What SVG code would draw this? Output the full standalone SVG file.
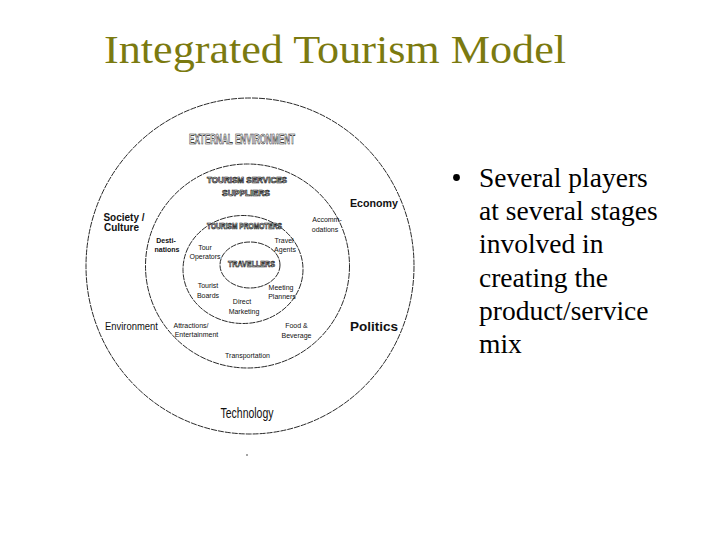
<svg xmlns="http://www.w3.org/2000/svg" width="720" height="540" viewBox="0 0 720 540">
<style>
.ring{fill:none;stroke:#111;stroke-width:0.9;stroke-dasharray:6 1}
.t{font-family:"Liberation Sans",Arial,sans-serif;fill:#111;text-anchor:middle}
.s{font-size:7px}
.b{font-weight:bold}
.o{font-family:"Liberation Sans",Arial,sans-serif;font-weight:bold;fill:#fff;stroke:#111;stroke-width:0.7;text-anchor:middle}
.r{font-family:"Liberation Serif","Times New Roman",serif;font-size:27.5px;fill:#000}
</style>
<rect width="720" height="540" fill="#fff"/>
<text id="title" x="104" y="63" font-family="Liberation Serif,'Times New Roman',serif" font-size="41" fill="#7b7a10" textLength="462" lengthAdjust="spacingAndGlyphs">Integrated Tourism Model</text>
<g id="rings">
<g id="ring-external"><ellipse class="ring" cx="250" cy="266" rx="164" ry="168"/></g>
<g id="ring-suppliers"><ellipse class="ring" cx="247.5" cy="266" rx="102" ry="102"/></g>
<g id="ring-promoters"><ellipse class="ring" cx="243" cy="269.5" rx="60" ry="54"/></g>
<g id="ring-travellers"><ellipse class="ring" cx="250" cy="265" rx="30" ry="23"/></g>
</g>
<g id="labels">
<g id="external"><text class="o" x="242" y="144" font-size="15" textLength="106" lengthAdjust="spacingAndGlyphs">EXTERNAL ENVIRONMENT</text></g>
<g id="suppliers"><text class="o" x="247" y="183" font-size="9" textLength="80" lengthAdjust="spacingAndGlyphs">TOURISM SERVICES</text><text class="o" x="246" y="196" font-size="9" textLength="48" lengthAdjust="spacingAndGlyphs">SUPPLIERS</text></g>
<g id="promoters"><text class="o" x="244.5" y="229" font-size="9" textLength="75" lengthAdjust="spacingAndGlyphs">TOURISM PROMOTERS</text></g>
<g id="travellers"><text class="o" x="251.5" y="267" font-size="9" textLength="47" lengthAdjust="spacingAndGlyphs">TRAVELLERS</text></g>
<g id="economy"><text class="t b" x="374" y="207" font-size="10" textLength="48" lengthAdjust="spacingAndGlyphs">Economy</text></g>
<g id="society"><text class="t b" x="124" y="221" font-size="10">Society /</text><text class="t b" x="121.5" y="230.5" font-size="10">Culture</text></g>
<g id="environment"><text class="t" x="131.5" y="330" font-size="10" textLength="53" lengthAdjust="spacingAndGlyphs">Environment</text></g>
<g id="politics"><text class="t b" x="374" y="331" font-size="12" textLength="48" lengthAdjust="spacingAndGlyphs">Politics</text></g>
<g id="technology"><text class="t" x="247" y="418" font-size="15" textLength="53" lengthAdjust="spacingAndGlyphs">Technology</text></g>
<g id="accommodations"><text class="t s" x="327" y="222">Accomm-</text><text class="t s" x="325" y="232">odations</text></g>
<g id="destinations"><text class="t s b" x="166" y="243">Desti-</text><text class="t s b" x="167" y="252">nations</text></g>
<g id="tour-operators"><text class="t s" x="205" y="250">Tour</text><text class="t s" x="205" y="259">Operators</text></g>
<g id="travel-agents"><text class="t s" x="284" y="243">Travel</text><text class="t s" x="285" y="252">Agents</text></g>
<g id="tourist-boards"><text class="t s" x="208" y="288">Tourist</text><text class="t s" x="208" y="298">Boards</text></g>
<g id="meeting-planners"><text class="t s" x="281" y="290">Meeting</text><text class="t s" x="282" y="299">Planners</text></g>
<g id="direct-marketing"><text class="t s" x="242" y="304">Direct</text><text class="t s" x="244" y="314">Marketing</text></g>
<g id="attractions"><text class="t s" x="191" y="328">Attractions/</text><text class="t s" x="196.5" y="337">Entertainment</text></g>
<g id="food"><text class="t s" x="296.5" y="328">Food &amp;</text><text class="t s" x="296.5" y="338">Beverage</text></g>
<g id="transportation"><text class="t s" x="247.5" y="358">Transportation</text></g>
</g>
<g id="connectors"></g>
<circle cx="247" cy="455" r="0.8" fill="#333"/>
<g id="bullets">
<circle cx="456.5" cy="177.5" r="3.4" fill="#000"/>
<text class="r" x="479" y="187">Several players</text>
<text class="r" x="479" y="220">at several stages</text>
<text class="r" x="479" y="253">involved in</text>
<text class="r" x="479" y="287">creating the</text>
<text class="r" x="479" y="320">product/service</text>
<text class="r" x="479" y="353">mix</text>
</g>
</svg>
